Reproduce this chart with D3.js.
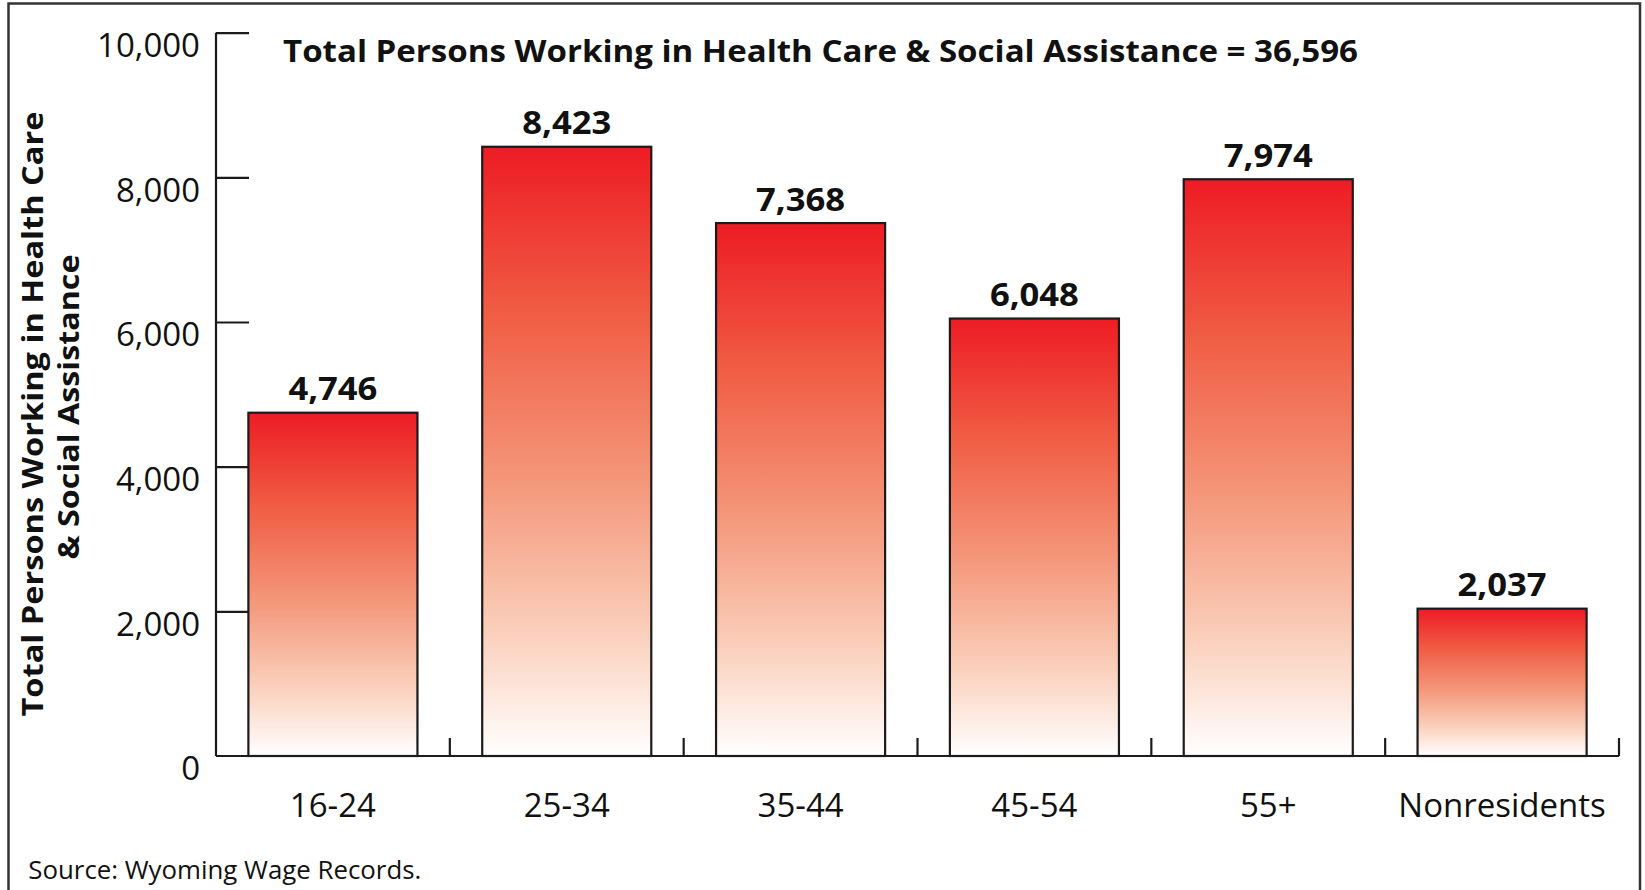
<!DOCTYPE html>
<html>
<head>
<meta charset="utf-8">
<script src="https://cdn.jsdelivr.net/npm/d3@7/dist/d3.min.js"></script>
<style>
  html, body { margin: 0; padding: 0; background: #fff; }
  svg { display: block; }
  text { font-family: "Open Sans", "Noto Sans", sans-serif; fill: #111; }
</style>
</head>
<body>
<svg id="chart" width="1645" height="890"></svg>
<script>
const categories = ["16-24", "25-34", "35-44", "45-54", "55+", "Nonresidents"];
const values = [4746, 8423, 7368, 6048, 7974, 2037];
const yTicks = [0, 2000, 4000, 6000, 8000, 10000];
const titleText = "Total Persons Working in Health Care & Social Assistance = 36,596";
const yTitleLines = ["Total Persons Working in Health Care", "& Social Assistance"];
const sourceText = "Source: Wyoming Wage Records.";

const svg = d3.select("#chart");
const ink = "#1c1a1b";

const x = d3.scaleBand().domain(categories).range([216, 1619]).paddingInner(0.277).paddingOuter(0.1385);
const y = d3.scaleLinear().domain([0, 10000]).range([756, 32.7]);

// gradient
const defs = svg.append("defs");
const grad = defs.append("linearGradient").attr("id", "barGrad")
  .attr("x1", 0).attr("y1", 0).attr("x2", 0).attr("y2", 1);
[[0, "#ED1C24"], [0.28, "#F05E45"], [0.55, "#F4977A"], [0.8, "#FAD0BC"], [1, "#FFFFFF"]]
  .forEach(([o, c]) => grad.append("stop").attr("offset", o).attr("stop-color", c));

// outer frame
svg.append("rect").attr("x", 8.5).attr("y", 3.5).attr("width", 1631.5).attr("height", 900)
  .attr("fill", "none").attr("stroke", "#333").attr("stroke-width", 2.5);

// bars
svg.selectAll("rect.bar").data(values).join("rect").attr("class", "bar")
  .attr("x", (d, i) => x(categories[i]))
  .attr("y", d => y(d))
  .attr("width", x.bandwidth())
  .attr("height", d => y(0) - y(d))
  .attr("fill", "url(#barGrad)")
  .attr("stroke", ink).attr("stroke-width", 2.2);

// value labels
svg.selectAll("text.val").data(values).join("text").attr("class", "val")
  .attr("x", (d, i) => x(categories[i]) + x.bandwidth() / 2)
  .attr("y", d => y(d) - 12.5)
  .attr("text-anchor", "middle")
  .attr("font-weight", 700).attr("font-size", 33)
  .attr("textLength", 89).attr("lengthAdjust", "spacingAndGlyphs")
  .text(d => d3.format(",")(d));

// y axis
const yAxis = d3.axisRight(y).tickValues(yTicks).tickSize(33).tickFormat("");
const gy = svg.append("g").attr("transform", "translate(216,0)").call(yAxis);
gy.select(".domain").attr("stroke", ink).attr("stroke-width", 2.2).attr("d", `M0,${y(10000)}V${y(0)}`);
gy.selectAll(".tick line").attr("stroke", ink).attr("stroke-width", 2.2);
gy.selectAll(".tick").filter(d => d === 0).remove();

// y tick labels
svg.selectAll("text.ytl").data(yTicks).join("text").attr("class", "ytl")
  .attr("x", 200).attr("y", d => y(d) + 24.3)
  .attr("text-anchor", "end").attr("font-size", 33)
  .text(d => d3.format(",")(d));

// x axis
const xAxis = d3.axisBottom(x).tickSize(0).tickFormat("");
const gx = svg.append("g").attr("transform", `translate(0,${y(0)})`).call(xAxis);
gx.select(".domain").attr("stroke", ink).attr("stroke-width", 2.2).attr("d", "M216,0H1619");
gx.selectAll(".tick").remove();
const boundaries = categories.map(c => x(c) + x.bandwidth() + x.step() * x.paddingInner() / 2);
svg.selectAll("line.xt").data(boundaries).join("line").attr("class", "xt")
  .attr("x1", d => d).attr("x2", d => d)
  .attr("y1", y(0)).attr("y2", y(0) - 18)
  .attr("stroke", ink).attr("stroke-width", 2.2);

// x labels
svg.selectAll("text.xl").data(categories).join("text").attr("class", "xl")
  .attr("x", d => x(d) + x.bandwidth() / 2).attr("y", 816.7)
  .attr("text-anchor", "middle").attr("font-size", 33)
  .text(d => d);

// title
svg.append("text").attr("x", 283).attr("y", 62)
  .attr("font-weight", 700).attr("font-size", 30.5)
  .attr("textLength", 1075).attr("lengthAdjust", "spacingAndGlyphs")
  .text(titleText);

// y title
const yt = svg.append("g").attr("transform", "translate(0,414) rotate(-90)");
yt.append("text").attr("x", 0).attr("y", 43).attr("text-anchor", "middle")
  .attr("font-weight", 700).attr("font-size", 29)
  .attr("textLength", 605).attr("lengthAdjust", "spacingAndGlyphs")
  .text(yTitleLines[0]);
yt.append("text").attr("x", 7).attr("y", 79).attr("text-anchor", "middle")
  .attr("font-weight", 700).attr("font-size", 29)
  .attr("textLength", 305).attr("lengthAdjust", "spacingAndGlyphs")
  .text(yTitleLines[1]);

// source
svg.append("text").attr("x", 28.3).attr("y", 879.3).attr("font-size", 26)
  .attr("textLength", 393).attr("lengthAdjust", "spacingAndGlyphs")
  .text(sourceText);
</script>
</body>
</html>
